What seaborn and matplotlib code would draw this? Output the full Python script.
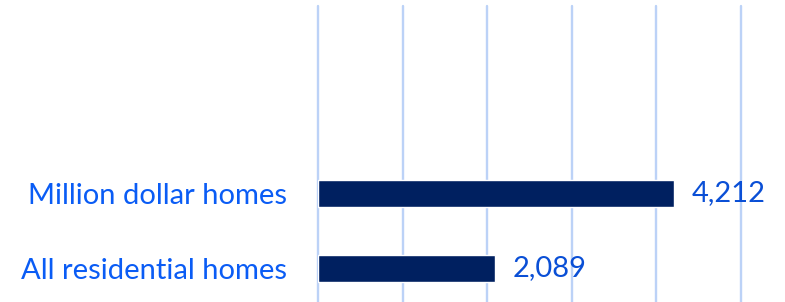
import matplotlib
matplotlib.use("Agg")
import matplotlib.pyplot as plt
import seaborn as sns
import pandas as pd

categories = ["Million dollar homes", "All residential homes"]
values = [4212, 2089]
value_labels = ["4,212", "2,089"]
x_ticks = [0, 1000, 2000, 3000, 4000, 5000]

sns.set_theme(style="white")
plt.rcParams["font.family"] = ["Lato", "DejaVu Sans"]

W, H = 785, 302
fig = plt.figure(figsize=(W / 100, H / 100), dpi=100)
left, right = 318 / W, 740.5 / W
top, bottom = 1 - 6 / H, 0.0
ax = fig.add_axes([left, bottom, right - left, top - bottom])

df = pd.DataFrame({"category": categories, "value": values})
sns.barplot(data=df, x="value", y="category", order=categories, color="#002060",
            width=0.36, saturation=1, ax=ax)

ax.set_xlim(0, 5000)
ax.set_ylim(1 + 0.5 - 3.5 / 75, -2.5)
ax.set_xticks(x_ticks)
ax.xaxis.grid(True, color="#BCD2F7", linewidth=1.7)
ax.yaxis.grid(False)
ax.set_axisbelow(True)
for gl in ax.get_xgridlines():
    gl.set_clip_on(False)
for s in ax.spines.values():
    s.set_visible(False)
ax.tick_params(axis="x", length=0, labelbottom=False)
ax.tick_params(axis="y", length=0, pad=22)
ax.set_xlabel("")
ax.set_ylabel("")
for lbl in ax.get_yticklabels():
    lbl.set_color("#0A5CF5")
    lbl.set_fontsize(21)

for i, (v, t) in enumerate(zip(values, value_labels)):
    ax.text(v + 210, i, t, va="center", ha="left", fontsize=21, color="#0A4FD6",
            clip_on=False)

fig.savefig("out.png", dpi=100)
